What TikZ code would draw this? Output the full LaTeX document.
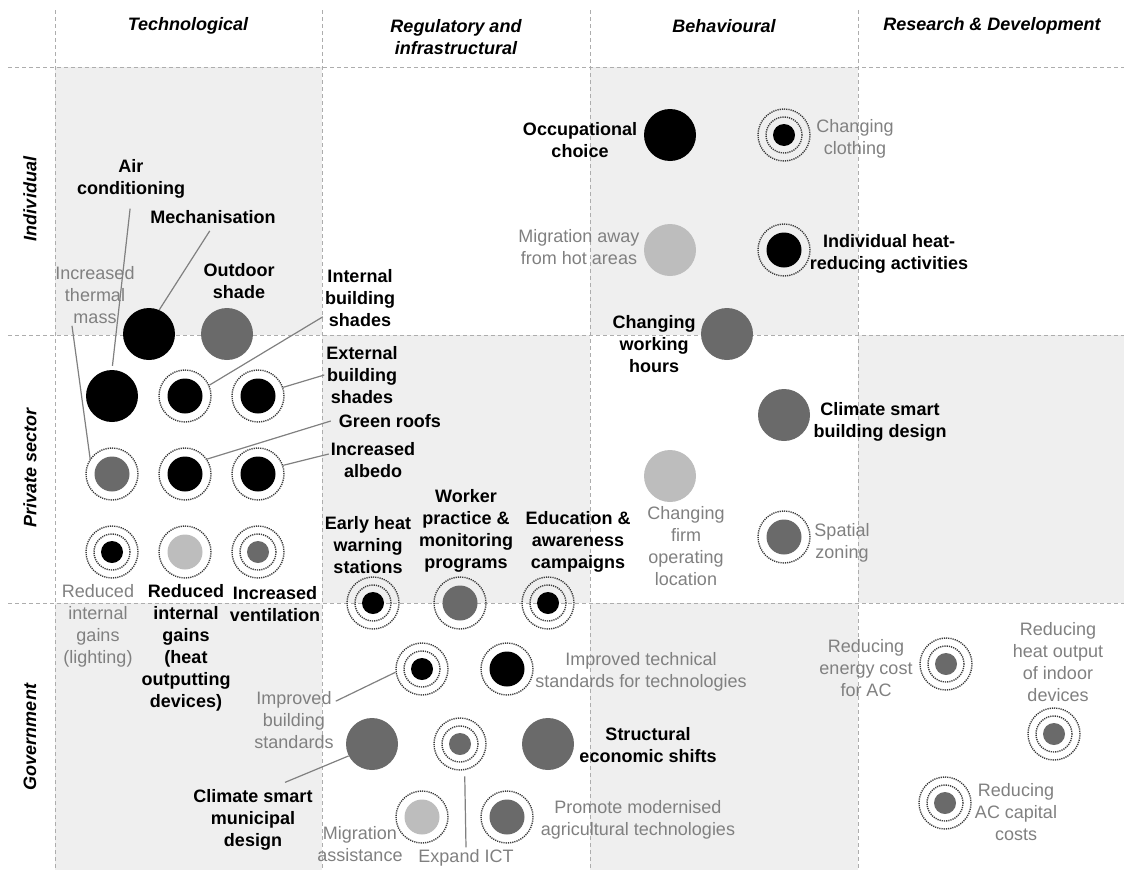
\documentclass[tikz,border=0pt]{standalone}
\usepackage{fontspec}
\setmainfont{Liberation Sans}
\usepackage{tikz}

\definecolor{cellgray}{HTML}{EFEFEF}
\definecolor{darkdot}{HTML}{6A6A6A}
\definecolor{lightdot}{HTML}{BDBDBD}
\definecolor{txtgray}{HTML}{808080}
\definecolor{gridgray}{HTML}{ADADAD}
\definecolor{ringgray}{HTML}{3A3A3A}

\tikzset{
  boldlab/.style={font=\fontsize{18}{22}\selectfont\bfseries, align=center, inner sep=2pt},
  greylab/.style={font=\fontsize{18}{22}\selectfont, text=txtgray, align=center, inner sep=2pt},
  headlab/.style={font=\fontsize{18}{22}\selectfont\bfseries\itshape, align=center, inner sep=2pt},
  disc/.style={circle, fill=#1, minimum size=52pt, inner sep=0pt},
  ringline/.style={draw=ringgray, line width=1.4pt, dash pattern=on 1.2pt off 1pt},
  ring/.style={circle, ringline, minimum size=52pt, inner sep=0pt},
  ring1/.style={ring, path picture={\fill[#1] (path picture bounding box.center) circle (17.5pt);}},
  ring2/.style={ring, path picture={
      \draw[ringline] (path picture bounding box.center) circle (18pt);
      \fill[#1] (path picture bounding box.center) circle (11pt);}},
  link/.style={draw=txtgray, line width=1.2pt},
  gridline/.style={draw=gridgray, line width=0.9pt, dash pattern=on 4pt off 3pt}
}

\begin{document}
\begin{tikzpicture}[x=1pt, y=-1pt]
\useasboundingbox (0,0) rectangle (1124,870);

% shaded cells
\fill[cellgray] (55,67) rectangle (322,335);
\fill[cellgray] (590,67) rectangle (858,335);
\fill[cellgray] (322,335) rectangle (590,603);
\fill[cellgray] (858,335) rectangle (1124,603);
\fill[cellgray] (55,603) rectangle (322,870);
\fill[cellgray] (590,603) rectangle (858,870);

% dashed grid
\draw[gridline] (55,10) -- (55,870);
\draw[gridline] (322,10) -- (322,870);
\draw[gridline] (590,10) -- (590,870);
\draw[gridline] (858,10) -- (858,870);
\draw[gridline] (8,67) -- (1124,67);
\draw[gridline] (8,335) -- (1124,335);
\draw[gridline] (8,603) -- (1124,603);

% column and row headings
\node[headlab] (h-tech) at (188,26) {Technological};
\node[headlab] (h-reg) at (456,37) {Regulatory and\\infrastructural};
\node[headlab] (h-beh) at (724,26) {Behavioural};
\node[headlab] (h-rd) at (992,26) {Research \& Development};
\node[headlab, rotate=90] (r-ind) at (30,199) {Individual};
\node[headlab, rotate=90] (r-priv) at (30,468) {Private sector};
\node[headlab, rotate=90] (r-gov) at (30,737) {Government};

% measures: individual
\node[disc=black] (mech) at (149,334) {};
\node[disc=darkdot] (outd) at (227,334) {};
\node[disc=black] (occ) at (670,135) {};
\node[ring2=black] (clo) at (784,135) {};
\node[disc=lightdot] (mig) at (670,250) {};
\node[ring1=black] (ihr) at (784,250) {};
\node[disc=darkdot] (cwh) at (727,334) {};

% measures: private sector
\node[disc=black] (ac) at (112,396) {};
\node[ring1=black] (ish) at (185,396) {};
\node[ring1=black] (esh) at (258,396) {};
\node[ring1=darkdot] (tmass) at (112,474) {};
\node[ring1=black] (groof) at (185,474) {};
\node[ring1=black] (alb) at (258,474) {};
\node[ring2=black] (rlight) at (112,552) {};
\node[ring1=lightdot] (rheat) at (185,552) {};
\node[ring2=darkdot] (vent) at (258,552) {};
\node[ring2=black] (ehw) at (373,603) {};
\node[ring1=darkdot] (wpm) at (460,603) {};
\node[ring2=black] (edu) at (548,603) {};
\node[disc=darkdot] (csb) at (784,415) {};
\node[disc=lightdot] (cfo) at (670,476) {};
\node[ring1=darkdot] (zon) at (784,537) {};

% measures: government
\node[ring2=black] (ibs) at (422,669) {};
\node[ring1=black] (its) at (507,669) {};
\node[disc=darkdot] (csm) at (372,744) {};
\node[ring2=darkdot] (ict) at (460,744) {};
\node[disc=darkdot] (ses) at (548,744) {};
\node[ring1=lightdot] (mas) at (422,817) {};
\node[ring1=darkdot] (pma) at (507,817) {};
\node[ring2=darkdot] (rec) at (946,664) {};
\node[ring2=darkdot] (rho) at (1054,734) {};
\node[ring2=darkdot] (rac) at (945,803) {};

% labels
\node[boldlab] (l-ac) at (131,179) {Air\\conditioning};
\node[boldlab] (l-mech) at (213,217) {Mechanisation};
\node[greylab] (l-tmass) at (95,295) {Increased\\thermal\\mass};
\node[boldlab] (l-outd) at (239,281) {Outdoor\\shade};
\node[boldlab] (l-ish) at (360,298) {Internal\\building\\shades};
\node[boldlab] (l-esh) at (362,375) {External\\building\\shades};
\node[boldlab] (l-groof) at (390,421) {Green roofs};
\node[boldlab] (l-alb) at (373,460) {Increased\\albedo};
\node[greylab] (l-rlight) at (98,626) {Reduced\\internal\\gains\\(lighting)};
\node[boldlab] (l-rheat) at (186,648) {Reduced\\internal\\gains\\(heat\\outputting\\devices)};
\node[boldlab] (l-vent) at (275,604) {Increased\\ventilation};
\node[boldlab] (l-occ) at (580,140) {Occupational\\choice};
\node[greylab] (l-clo) at (855,139) {Changing\\clothing};
\node[greylab] (l-mig) at (579,247) {Migration away\\from hot areas};
\node[boldlab] (l-ihr) at (889,254) {Individual heat-\\reducing activities};
\node[boldlab] (l-cwh) at (654,344) {Changing\\working\\hours};
\node[boldlab] (l-csb) at (880,422) {Climate smart\\building design};
\node[greylab] (l-cfo) at (686,546) {Changing\\firm\\operating\\location};
\node[greylab] (l-zon) at (842,543) {Spatial\\zoning};
\node[boldlab] (l-ehw) at (368,545) {Early heat\\warning\\stations};
\node[boldlab] (l-wpm) at (466,531) {Worker\\practice \&\\monitoring\\programs};
\node[boldlab] (l-edu) at (578,542) {Education \&\\awareness\\campaigns};
\node[greylab] (l-its) at (641,672) {Improved technical\\standards for technologies};
\node[greylab] (l-ibs) at (294,720) {Improved\\building\\standards};
\node[boldlab] (l-csm) at (253,820) {Climate smart\\municipal\\design};
\node[boldlab] (l-ses) at (648,745) {Structural\\economic shifts};
\node[greylab] (l-mas) at (360,844) {Migration\\assistance};
\node[greylab] (l-ict) at (466,858) {Expand ICT};
\node[greylab] (l-pma) at (638,820) {Promote modernised\\agricultural technologies};
\node[greylab] (l-rec) at (866,668) {Reducing\\energy cost\\for AC};
\node[greylab] (l-rho) at (1058,662) {Reducing\\heat output\\of indoor\\devices};
\node[greylab] (l-rac) at (1016,812) {Reducing\\AC capital\\costs};

% leader lines
\draw[link, shorten <=8pt, shorten >=4pt] (l-ac.south) -- (ac.north);
\draw[link, shorten <=6pt] (l-mech.south) -- (mech.67);
\draw[link, shorten >=-2pt] ([xshift=-23pt]l-tmass.south) -- (tmass.145);
\draw[link] ([yshift=12pt]l-ish.south west) -- (ish.24);
\draw[link] (l-esh.west) -- (esh.19);
\draw[link] ([xshift=-6pt]l-groof.west) -- (groof.34);
\draw[link] ([yshift=6pt]l-alb.west) -- (alb.19);
\draw[link] ([yshift=-12pt]l-ibs.north east) -- (ibs.187);
\draw[link] ([xshift=32pt,yshift=5pt]l-csm.north) -- (csm.207);
\draw[link, shorten >=6pt] (l-ict.north) -- (ict.-80);
\end{tikzpicture}
\end{document}
